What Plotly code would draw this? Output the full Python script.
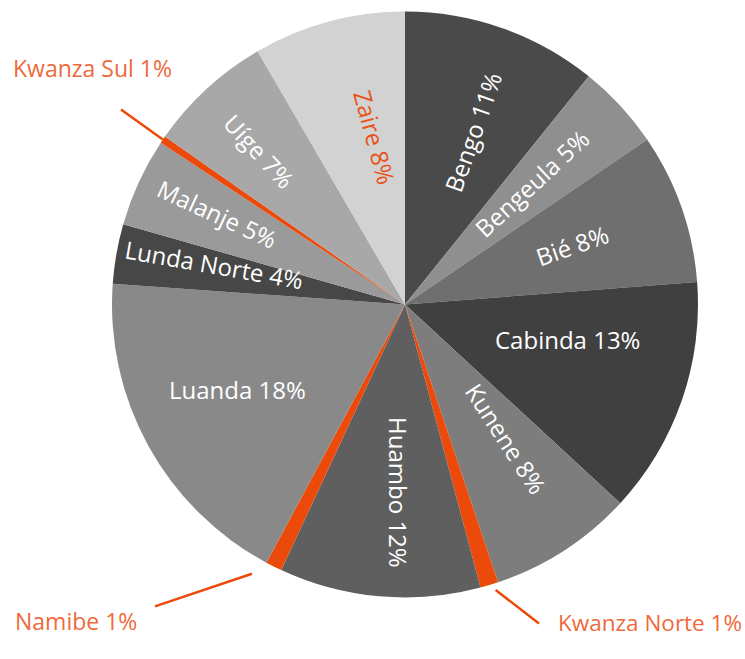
import math
import plotly.graph_objects as go

# ---- data (clockwise from 12 o'clock) ----
provinces = ["Bengo", "Bengeula", "Bié", "Cabinda", "Kunene", "Kwanza Norte",
             "Huambo", "Namibe", "Luanda", "Lunda Norte", "Malanje",
             "Kwanza Sul", "Uíge", "Zaire"]
shares = [10.8, 4.7, 8.3, 13.1, 8.0, 1.0, 11.1, 0.9, 18.3, 3.3, 4.9, 0.4, 6.9, 8.4]
pct_labels = ["11%", "5%", "8%", "13%", "8%", "1%", "12%", "1%", "18%", "4%",
              "5%", "1%", "7%", "8%"]
slice_colors = ["#4a4a4a", "#8f8f8f", "#6f6f6f", "#404040", "#7d7d7d", "#ec4a0a",
                "#5f5f5f", "#ec4a0a", "#898989", "#474747", "#9a9a9a",
                "#ec4a0a", "#a8a8a8", "#d2d2d2"]

# ---- layout geometry / styling ----
W, H = 745, 659
CX, CY, R = 405, 304.5, 293
ORANGE = "#ec4a0a"
ORANGE_TXT = "#ee6a3c"
FONT = "Open Sans"

# inside label placement: radius (px), angular nudge (deg), orientation
inside_cfg = {
    "Bengo":       (186, 2, "radial"),
    "Bengeula":    (175, -1, "radial"),
    "Bié":         (177, 0, "radial"),
    "Cabinda":     (166, -7, "horizontal"),
    "Kunene":      (168, -4, "radial"),
    "Huambo":      (188, -3, 90),
    "Luanda":      (188, 2, "horizontal"),
    "Lunda Norte": (195, 2, "radial"),
    "Malanje":     (209, 1, "radial"),
    "Uíge":        (211, -1, "radial"),
    "Zaire":       (170, 5, "radial"),
}
# outside labels: (text centre px, leader tail px, standoff, size)
outside_cfg = {
    "Kwanza Sul":   ((92, 68), (119, 108), 0, 23),
    "Namibe":       ((76, 621), (153, 607), 23, 23),
    "Kwanza Norte": ((650, 622), (541, 625), 8, 22.5),
}

fig = go.Figure(go.Pie(
    labels=provinces,
    values=shares,
    text=pct_labels,
    textinfo="none",
    marker=dict(colors=slice_colors, line=dict(width=0)),
    sort=False,
    direction="clockwise",
    rotation=0,
    hole=0,
    showlegend=False,
    hoverinfo="label+text",
    domain=dict(x=[(CX - R) / W, (CX + R) / W],
                y=[1 - (CY + R) / H, 1 - (CY - R) / H]),
))

def px2paper(x, y):
    return x / W, 1 - y / H

# mid-angle of each slice (clockwise from top, degrees), from the data
total = sum(shares)
mid_angle = {}
acc = 0.0
for p, v in zip(provinces, shares):
    mid_angle[p] = (acc + v / 2) / total * 360.0
    acc += v

annotations = []
for p, (r, dth, orient) in inside_cfg.items():
    th = mid_angle[p] + dth
    x = CX + r * math.sin(math.radians(th))
    y = CY - r * math.cos(math.radians(th))
    if orient == "horizontal":
        ang = 0
    elif orient == "radial":
        ang = mid_angle[p] - 90
        while ang > 90:
            ang -= 180
        while ang <= -90:
            ang += 180
    else:
        ang = orient
    idx = provinces.index(p)
    px, py = px2paper(x, y)
    annotations.append(dict(
        x=px, y=py, xref="paper", yref="paper",
        text=f"{p} {pct_labels[idx]}", showarrow=False, textangle=ang,
        font=dict(family=FONT, size=24,
                  color="#e8521b" if p == "Zaire" else "white"),
        xanchor="center", yanchor="middle",
    ))

for p, (tc, tail, so, fs) in outside_cfg.items():
    a = math.radians(mid_angle[p])
    tipx = CX + R * math.sin(a)
    tipy = CY - R * math.cos(a)
    px, py = px2paper(tipx, tipy)
    annotations.append(dict(
        x=px, y=py, xref="paper", yref="paper", text=" ",
        showarrow=True, arrowhead=0, arrowwidth=2.5, arrowcolor=ORANGE,
        ax=tail[0] - tipx, ay=tail[1] - tipy, standoff=so,
        font=dict(size=2),
    ))
    lx, ly = px2paper(*tc)
    idx = provinces.index(p)
    annotations.append(dict(
        x=lx, y=ly, xref="paper", yref="paper",
        text=f"{p} {pct_labels[idx]}", showarrow=False,
        font=dict(family=FONT, size=fs, color=ORANGE_TXT),
        xanchor="center", yanchor="middle",
    ))

fig.update_layout(
    width=W, height=H,
    margin=dict(l=0, r=0, t=0, b=0),
    paper_bgcolor="white",
    plot_bgcolor="white",
    annotations=annotations,
)

fig.write_html("out.html",
               config={"displayModeBar": False},
               post_script="document.body.style.margin='0';document.body.style.overflow='hidden';")
